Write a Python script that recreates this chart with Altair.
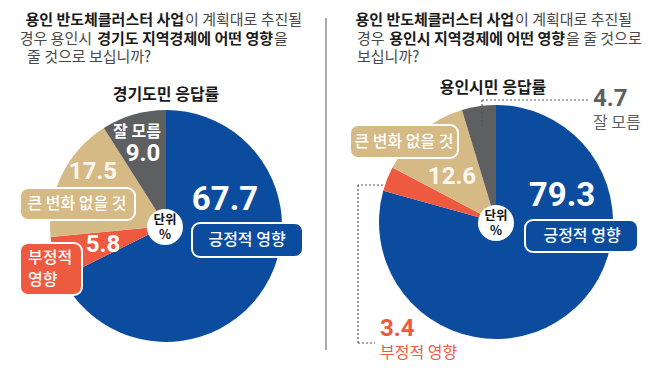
import altair as alt
import pandas as pd

# ---- data ----
categories = ["긍정적 영향", "부정적 영향", "큰 변화 없을 것", "잘 모름"]
gyeonggi_vals = [67.7, 5.8, 17.5, 9.0]
yongin_vals = [79.3, 3.4, 12.6, 4.7]
colors = ["#0B4C9F", "#EE5A40", "#D6BA86", "#5E5F61"]
panel_titles = ["경기도민 응답률", "용인시민 응답률"]

FONT = "Noto Sans CJK KR"
NUMFONT = "Roboto"
W, H = 642, 354


def txt(s, x, y, size, color, weight="normal", align="center", font=FONT):
    return alt.Chart(pd.DataFrame({"t": [s]})).mark_text(
        x=x, y=y, fontSize=size, color=color, fontWeight=weight,
        align=align, baseline="middle", font=font
    ).encode(text="t:N")


def num(s, x, y, size, color, align="center"):
    return txt(s, x, y, size, color, "bold", align, NUMFONT)


def box(x1, x2, y1, y2, color):
    return alt.Chart(pd.DataFrame({"a": [0]})).mark_rect(
        cornerRadius=8, color=color, stroke="white", strokeWidth=2, opacity=1
    ).encode(x=alt.value(x1), x2=alt.value(x2), y=alt.value(y1), y2=alt.value(y2))


def dotted(x1, y1, x2, y2):
    return alt.Chart(pd.DataFrame({"a": [0]})).mark_rule(
        strokeDash=[2, 2], color="#555555", strokeWidth=1.2
    ).encode(x=alt.value(x1), x2=alt.value(x2), y=alt.value(y1), y2=alt.value(y2))


TS = 15
BOLD_C, REG_C = "#1a1a1a", "#484848"


def tb(s, x, y, align="left"):
    return txt(s, x, y, TS, BOLD_C, "bold", align)


def tr(s, x, y, align="left"):
    return txt(s, x, y, TS, REG_C, "normal", align)


def pie(vals, cx, cy, r):
    df = pd.DataFrame({"cat": categories, "val": vals, "idx": list(range(len(vals)))})
    return alt.Chart(df).mark_arc(radius=r).encode(
        theta=alt.Theta("val:Q", stack=True),
        color=alt.Color("cat:N", scale=alt.Scale(domain=categories, range=colors), legend=None),
        order=alt.Order("idx:Q"),
        x=alt.value(cx), y=alt.value(cy),
    )


def center_badge(cx, cy, r=18):
    c = alt.Chart(pd.DataFrame({"a": [0]})).mark_arc(
        radius=r, theta=0, theta2=6.2832, color="white", opacity=1
    ).encode(x=alt.value(cx), y=alt.value(cy))
    return [c, txt("단위", cx, cy - 7, 12.5, "#111111", "bold"),
            txt("%", cx, cy + 8, 12.5, "#111111", "bold")]


layers = []

# ---- titles (segments anchored at the joins seen in the reference) ----
y1, y2, y3 = 12, 31, 48.5
layers += [
    tb("용인 반도체클러스터 사업", 176, y1, "right"), tr("이 계획대로 추진될", 177, y1),
    tr("경우 용인시", 84, y2, "right"), tb("경기도 지역경제에 어떤 영향", 265, y2, "right"), tr("을", 266, y2),
    tr("줄 것으로 보십니까?", 19, y3),
    tb("용인 반도체클러스터 사업", 506, y1, "right"), tr("이 계획대로 추진될", 507, y1),
    tr("경우", 349, y2), tb("용인시 지역경제에 어떤 영향", 557, y2, "right"), tr("을 줄 것으로", 558, y2),
    tr("보십니까?", 349, y3),
]

# divider
layers.append(alt.Chart(pd.DataFrame({"a": [0]})).mark_rule(color="#555555", strokeWidth=1).encode(
    x=alt.value(318), x2=alt.value(318), y=alt.value(10), y2=alt.value(342)))

# ---- left panel ----
layers.append(txt(panel_titles[0], 158, 87, 16, "#1a1a1a", "bold"))
layers.append(pie(gyeonggi_vals, 158, 218, 116))
layers += [
    txt(categories[3], 129, 124, 16, "white", "bold"),
    num(f"{gyeonggi_vals[3]:.1f}", 135, 146, 24, "white"),
    num(f"{gyeonggi_vals[2]:.1f}", 85, 164, 24, "#FBF6EC"),
    box(12, 127, 180, 212, colors[2]),
    txt(categories[2], 69, 196, 16, "white", 500),
    num(f"{gyeonggi_vals[0]:.1f}", 217, 192, 33, "white"),
    box(184, 295, 215, 249, colors[0]),
    txt(categories[0], 239, 232, 16, "white", 500),
    num(f"{gyeonggi_vals[1]:.1f}", 95, 237, 24, "white"),
    box(12, 74, 235, 287, colors[1]),
    txt("부정적", 20, 250, 16, "white", 500, align="left"),
    txt("영향", 20, 272, 16, "white", 500, align="left"),
]
layers += center_badge(157, 219)

# ---- right panel ----
layers.append(txt(panel_titles[1], 485, 80, 16, "#1a1a1a", "bold"))
layers.append(pie(yongin_vals, 488, 214, 117))
layers += [
    dotted(474, 92, 582, 92),
    dotted(474, 92, 474, 119),
    num(f"{yongin_vals[3]:.1f}", 585, 91, 24, colors[3], align="left"),
    txt(categories[3], 585, 115, 16, colors[3], "normal", align="left"),
    box(342, 450, 117, 150, colors[2]),
    txt(categories[2], 396, 134, 16, "white", 500),
    num(f"{yongin_vals[2]:.1f}", 444, 169, 24, "#FBF6EC"),
    num(f"{yongin_vals[0]:.1f}", 554, 188, 33, "white"),
    box(517, 630, 212, 244, colors[0]),
    txt(categories[0], 574, 228, 16, "white", 500),
    dotted(375, 177, 350, 177),
    dotted(350, 177, 350, 335),
    dotted(350, 335, 367, 335),
    num(f"{yongin_vals[1]:.1f}", 372, 321, 24, colors[1], align="left"),
    txt(categories[1], 372, 345, 16, colors[1], "normal", align="left"),
]
layers += center_badge(488, 215)

chart = alt.layer(*layers).resolve_scale(theta="independent").properties(
    width=W, height=H, padding=0, autosize="none", background="white"
).configure_view(stroke=None)

chart.save("out.html", embed_options={"renderer": "svg", "actions": False})
